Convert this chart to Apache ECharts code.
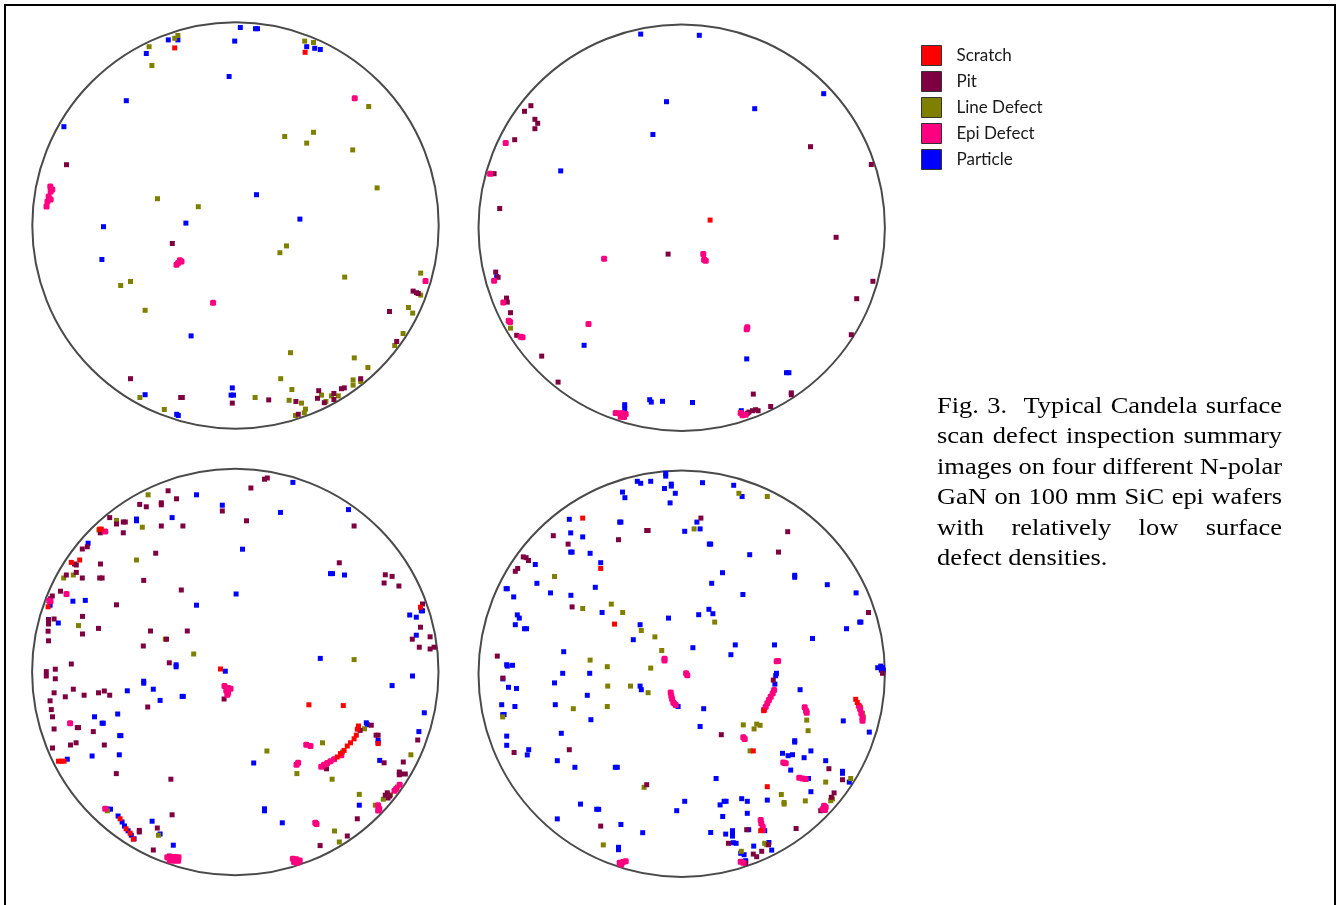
<!DOCTYPE html>
<html>
<head>
<meta charset="utf-8">
<script src="https://cdn.jsdelivr.net/npm/echarts@6/dist/echarts.min.js"></script>
<style>
  html, body { margin: 0; padding: 0; background: #fff; }
  #chart { width: 1338px; height: 905px; }
</style>
</head>
<body>
<div id="chart"></div>
<script>
// ---- Defect categories and colours ----
const CATEGORIES = ["Scratch", "Pit", "Line Defect", "Epi Defect", "Particle"];
const CATEGORY_COLORS = ["#FF0000", "#7F0040", "#808000", "#FF0080", "#0000FF"];

// Wafer radius in mm-like wafer units
const WAFER_RADIUS = 50.8;

// ---- Wafer 1 (top left) defect positions [x, y] ----
const w1_scratch = [[-15.2,44.4],[17.4,43.3]];
const w1_pit = [[-42.25,15.2],[-15.8,-4.5],[44.4,-16.4],[45.25,-16.8],[45.7,-17],[38.5,-21.5],[40.3,-29],[31.3,-38.3],[27.2,-40.6],[26.5,-40.8],[20.8,-41.3],[20.5,-43.2],[24.6,-42],[24.6,-43.5],[22.2,-44.3],[15.1,-44],[8.3,-43.6],[15.7,-47.2],[-0.8,-44.4],[-13.7,-43],[-13.3,-43],[-26.25,-38.3]];
const w1_line = [[-14.4,47.5],[-15.2,46.8],[-21.6,44.7],[-20.9,40],[17.3,46.1],[19.5,45.75],[33.3,29.75],[12.3,22.25],[19.5,23.3],[17.8,20.6],[29.3,18.9],[35.4,9.4],[-19.5,6.7],[-9.3,4.7],[12.75,-5.1],[11.1,-6.8],[-28.7,-15],[-26.25,-14],[-22.6,-21.2],[27.3,-12.9],[46.3,-11.9],[46.3,-17.4],[43.25,-20.5],[44.3,-21.9],[41.9,-27],[39.8,-30],[13.75,-31.8],[29.7,-33.1],[33.1,-35.5],[11.3,-38.3],[29.4,-38.6],[29.4,-39.9],[31.3,-39],[14.1,-41],[21.5,-42.4],[24,-42.6],[25.7,-42.6],[22.6,-44],[16.5,-44.4],[13.4,-43.7],[4.9,-43],[17.5,-45.9],[17.2,-46.8],[15,-47.5],[-23.9,-43],[-17.8,-46]];
const w1_epi = [[29.8,31.8],[-46.3,9.75],[-45.8,9],[-46.2,8.5],[-46.7,7.25],[-46.2,6.5],[-47,6],[-47.25,4.75],[-13.9,-8.7],[-14.3,-9.3],[-14.75,-9.8],[-13.5,-9],[-5.6,-19.3],[47.5,-13.9]];
const w1_particle = [[1.2,49.5],[5,49.2],[5.5,49.2],[-16.8,46.4],[-14.4,46.4],[-0.2,46.1],[-1.6,37.25],[17.8,44.7],[19.8,44.3],[21.2,44],[-22.3,43],[-27.3,31.2],[-42.9,24.7],[5.25,7.7],[-12.4,0.6],[16.1,1.6],[-33,-0.3],[-33.4,-8.5],[-11.1,-27.6],[-0.8,-40.6],[-1.1,-42.4],[-0.5,-42.4],[-22.6,-42.3],[-14.7,-47.2],[-14.3,-47.5]];

// ---- Wafer 2 (top right) ----
const w2_scratch = [[7.1,1.9]];
const w2_pit = [[-37.7,30.5],[-39.3,29.1],[-36.7,27.1],[-36,26.1],[-36.7,24.75],[-41.75,22],[-46.9,13.5],[-47.6,13.5],[-45.5,4.8],[32.2,20.25],[47.4,15.8],[38.6,-2.4],[-3.4,-6.6],[47.8,-13.4],[43.75,-17.75],[-46.5,-11.1],[-45.9,-12.4],[-43.8,-17.6],[-43.6,-18.6],[-42.8,-21.25],[-41.25,-26.9],[-35,-32.1],[-30.9,-38.6],[42.4,-26.75],[17.9,-41.6],[27.4,-41.3],[27.4,-41.75],[22.25,-44.7],[16.8,-46.1],[17.7,-45.75],[18.5,-45.5],[19.1,-45.75],[16.4,-46.4]];
const w2_line = [[-42.8,-25.1]];
const w2_epi = [[-44,21.2],[-47.9,13.5],[-19.4,-7.75],[5.4,-6.6],[5.6,-8],[6,-8.25],[-46.9,-13.25],[-44.6,-18.7],[-43.25,-23.25],[-42.9,-23.6],[-40.25,-27.25],[-39.8,-27.4],[-23.3,-24.1],[16.4,-24.9],[16.25,-25.4],[-16.5,-46.3],[-15.7,-46.4],[-14.8,-46.4],[-14,-46.6],[-15.25,-47.25],[-14.4,-47.3],[14.75,-46.3],[15.2,-46.9],[16,-46.75]];
const w2_particle = [[-10.25,48.4],[4.4,48.1],[35.5,33.5],[-3.8,31.5],[18.25,29.75],[-7.2,23.3],[-30.25,14.2],[-46.25,-12.25],[-24.4,-29.4],[16.25,-32.8],[26.2,-36.25],[26.8,-36.25],[-8,-43],[-7.6,-43.6],[-4.8,-43.4],[2.7,-43.7],[-14.25,-44.25],[-14.25,-45.25],[14.9,-45.75]];

// ---- Wafer 3 (bottom left) ----
const w3_scratch = [[-33.9,35.7],[-33.5,35.7],[-41,27.4],[-38.9,28],[-46.8,16.3],[-3.7,0.75],[46.3,16.2],[-44.2,-22.3],[-43.5,-22.3],[-42.8,-22.3],[18.4,-8.2],[27,-8.4],[30.8,-13.5],[30.5,-14.3],[30.25,-15.8],[29.7,-16.7],[28.8,-17.7],[28,-18.5],[27.2,-19.6],[26.3,-20.4],[25.5,-21.25],[35.7,-17.9],[-28.8,-36.7],[-27.3,-39.2],[-26.3,-40.3],[-25.5,-41.8]];
const w3_pit = [[7.3,48.2],[8,48.5],[3.9,46],[-16.8,45.3],[-14.7,43.3],[-23.9,41.9],[-22.25,41.3],[-18.5,42.3],[-18.5,41.8],[-3.25,40.25],[2.8,37.8],[29.7,36.5],[-31.4,38.6],[-29.7,37],[-28,37.5],[-27.5,37.5],[-18.5,36.5],[-13.1,36.5],[-28,34.8],[-33.75,34.8],[-37,31.3],[-38.25,30.75],[-19.9,29.7],[-40.2,27],[-39.75,26.75],[-33.7,27],[-39.75,24.9],[-42.25,24.25],[-38.25,23.5],[-33.9,23.5],[-33.3,23.5],[-22.9,22.9],[26,27.3],[37.5,24.3],[39.2,23.9],[37.2,22.25],[40.9,21.5],[-13.5,20.5],[-43.7,20.2],[-45.75,19],[-46.2,18.3],[-29.7,16.8],[-46.7,13],[-46.7,12],[-45.3,13.25],[-38.2,13.9],[-46.8,10.2],[-46.7,7.8],[-38.2,9.5],[-34.2,10.9],[-21.2,10.25],[-12,10.25],[-23,6.5],[-17.2,8.2],[-16.5,2.3],[-41,2],[-45,0.7],[-47.25,0.1],[46.8,17],[46.3,11.2],[44.25,8.2],[48.7,8.8],[46,6.2],[48.7,5.75],[49.7,6.2],[-47.25,-1],[-45,-1.7],[45.6,-17],[-40.5,-4.3],[-42.5,-6.2],[-37.8,-5.8],[-34.2,-5.2],[-32.75,-4.75],[-31.4,-5.8],[-45.3,-5.2],[-46.3,-7.2],[-46,-9.4],[-45.7,-11.2],[-39.5,-13.9],[-39.2,-13.9],[-45.3,-14.25],[-35.5,-14.9],[-21.9,-8.75],[-41.2,-18.25],[-39.8,-17.7],[-32.75,-18.25],[-45.7,-19],[-29.75,-25.4],[-16.1,-26.8],[-2.8,-6.75],[22.8,-24.2],[31.2,-14.6],[34,-13.3],[35.2,-15.8],[35.7,-15.8],[37.2,-22.7],[42,-22.5],[41,-25],[41.3,-25.5],[42.5,-25.5],[41,-25.7],[38,-30.2],[37.5,-30.8],[38.6,-31],[38.2,-31.5],[30.5,-36.7],[28,-41],[21.2,-43.4],[-24,-39.6],[-24,-40],[-19.5,-39],[-15.8,-35.7],[-20.5,-44.5],[-16.5,-46]];
const w3_line = [[-21.8,44.3],[-29.7,37.9],[-23.25,36.2],[-34.1,35.5],[-24.7,28],[-40.5,24.25],[-42.9,23.5],[-39.2,11.6],[-17.5,8.2],[-10.4,4.5],[29.7,3.1],[43.9,-20.7],[32.3,-14.2],[26.8,-20],[21.8,-17.7],[7.9,-19.75],[15.4,-25.4],[24.2,-26.8],[40.5,-28.75],[38.8,-30.7],[37,-31.8],[31,-30.6],[35,-33.3],[24.8,-39.75],[26,-42.5],[-32,-34.7],[-19.2,-40.8]];
const w3_epi = [[-32.5,35.1],[-42.2,19.5],[-46.5,17.8],[-46.2,17.7],[-41.3,-12.8],[-2.7,-3.5],[-1.8,-4],[-1.2,-4.2],[-2.25,-4.6],[-1.8,-5.2],[-2,-5.7],[24.7,-21.8],[23.8,-22.3],[23,-22.75],[22.2,-23.2],[21.5,-23.7],[26.5,-20.8],[17.75,-18.2],[18.8,-18.5],[15.7,-22.7],[15.3,-23.2],[41.1,-28.2],[40.25,-29.2],[39.8,-29.7],[35.7,-33.3],[36,-34.2],[35.7,-34.6],[20,-37.7],[20.3,-38],[14.4,-46.7],[15.25,-46.8],[16.1,-47.1],[14.7,-47.5],[15.5,-47.7],[-32.5,-34.2],[-17,-46.3],[-16,-46.25],[-15,-46.25],[-14.2,-46.3],[-16.4,-47.1],[-15.3,-47.2],[-14.3,-47.2]];
const w3_particle = [[14.4,47.4],[-9.7,44.3],[-3.25,41.7],[11.3,39.9],[28.3,40.6],[-24.7,38.25],[-24.7,37.8],[-15.8,38.6],[-36.8,32.2],[1.8,30.7],[23.8,24.6],[24.3,24.6],[27.3,24.25],[0.2,19.5],[-46.3,16.7],[-40.6,17.7],[-37.5,17.9],[-9.7,16.7],[-46.7,13.1],[-44.25,12.25],[-14.8,1.8],[-14.8,1.3],[-2.5,0.2],[21.25,3.4],[46.5,15.3],[46.8,15.3],[43.6,14.25],[45.25,13.7],[45.25,9.2],[44.3,-1],[39.2,-3.4],[47.25,-10.2],[45.9,-14.9],[-22.9,-2.3],[-22.9,-2.8],[-20.5,-4.3],[-27,-4.7],[-18.8,-7.1],[-13.3,-6.1],[-13,-6.1],[-35.2,-11.2],[-33.3,-12.8],[-33,-12.8],[-29.4,-10.5],[-28.9,-15.9],[-28.6,-15.9],[-42,-21.8],[-35.8,-21],[-29,-20.7],[32.75,-12.7],[33,-13.2],[35.7,-17.1],[35.7,-17.7],[36.1,-22.1],[4.6,-22.75],[31,-33.3],[7.3,-34.2],[7.3,-34.7],[11.75,-37.7],[-31.8,-34.3],[-31.2,-34.3],[-29.3,-36],[-28.3,-37.5],[-27.7,-38.5],[-26.8,-39.7],[-26,-40.8],[-25.3,-41.7],[-20.8,-37.3],[-18.8,-40.5],[-15.5,-43.3]];

// ---- Wafer 4 (bottom right) ----
const w4_scratch = [[-24.75,38.9],[-20.25,26.3],[-16.8,12.4],[20.5,-9.25],[43.5,-6.4],[43.9,-7.2],[17.9,-19.3],[21.4,-28.25],[19.75,-39.25]];
const w4_pit = [[4.8,38.9],[-8.75,35.8],[-8.4,35.8],[26.5,35.5],[-32.1,34.5],[-15.8,33.5],[-28.4,32.4],[24.2,30.4],[-39.6,29.2],[-38.9,29],[-38.3,28.3],[-41,26.3],[-41.6,25.6],[-27.4,16.7],[46.7,15.3],[-46.1,4.4],[50.2,0.1],[-44.7,-1.1],[-41.9,-19.7],[-28.1,-19],[22.9,-1.6],[9.9,-15.25],[25.75,-22.4],[36.8,-23.75],[40.2,-26.5],[-8.75,-27.75],[38.1,-29.8],[37.4,-30.9],[34.75,-34.25],[-20.25,-38.1],[16.25,-39],[28.6,-38.7],[11.7,-42.4],[21.7,-42.75],[20,-44.4],[18.75,-45.75],[17.9,-45.1],[16,-47.4]];
const w4_line = [[14.3,45.1],[21.4,44.3],[3.1,36.2],[-31.8,24.3],[-17.6,17.4],[-14.75,15.3],[-24.75,16.3],[8.25,12.9],[-10.1,10.8],[-6.7,9.2],[-5,5.8],[-22.9,3.4],[-18.6,1.75],[-7.75,1.4],[-18.5,-3.1],[-12.8,-3.1],[-8.4,-4.75],[-27.1,-8.75],[-18.6,-8.2],[-44.75,-10.8],[31.25,-11.6],[31.6,-14.25],[44.75,-8.4],[45.2,-9.9],[45.4,-10.75],[15.4,-12.8],[18.75,-12.6],[19.6,-12.9],[18.1,-13.8],[17.1,-19.3],[42.25,-26.2],[36,-27.1],[-9.4,-28.4],[24.9,-30.2],[25.6,-32.2],[25.6,-32.6],[30.9,-31.8],[37.7,-31.3],[37.25,-31.75],[-19.6,-42.8],[20.75,-42.4],[21.25,-42.75],[14.9,-44.4]];
const w4_epi = [[-4.3,3.75],[-4.3,3.3],[24.1,3.2],[23.75,3.1],[1.1,0.1],[1.4,-0.4],[-2.75,-4.7],[-2.6,-5.5],[-2.4,-6.3],[-2.1,-7.2],[-1.5,-7.8],[23.1,-4.1],[22.75,-4.9],[22.25,-5.75],[21.8,-6.6],[21.4,-7.4],[21,-8.25],[20.6,-9],[30.75,-8.4],[31.1,-9.25],[31.25,-9.75],[44.3,-8],[44.6,-8.8],[44.9,-9.9],[45.2,-11.1],[45.2,-11.75],[15.4,-15.9],[15.75,-16.3],[25.4,-22.2],[26,-22.4],[29.4,-26],[30.2,-26.2],[31,-26.3],[35.6,-33],[36,-33.4],[35.25,-33.8],[35.8,-34.1],[19.75,-36.6],[19.9,-37.4],[20.25,-38.25],[20.25,-39.1],[-15.5,-47.25],[-14.7,-47.1],[-14,-46.9],[-15.1,-47.7],[14.75,-47],[15.4,-47.25]];
const w4_particle = [[-4,50.1],[-4,49.4],[-11.1,48.1],[-10.25,47.6],[-7.75,48.1],[-2.6,47.4],[-2.6,46.9],[-4.3,46.3],[-1.6,45.1],[5.2,47.75],[13,47.1],[15.1,44.3],[-14.8,45.4],[-14.2,44],[-2.9,42.7],[-28.1,38.6],[-15.5,37.9],[-15.2,37.9],[3.8,37.9],[4.6,36.2],[0.75,35.6],[-27.75,35.2],[-24.75,34.2],[6.9,32.4],[7.25,32.4],[-27.75,30.4],[-27.4,30.4],[-22.9,30.1],[17,29.75],[-36.6,27.3],[-20.25,27.75],[10.2,25.25],[28.25,24.6],[28.25,24.1],[-36.2,22.6],[-43.9,21.25],[-43.6,21.25],[-42,19.2],[-32.8,20.2],[-27.7,19.6],[-21.6,21.6],[7.5,22.6],[36.4,22.25],[15.3,19.8],[43.6,20.2],[-19.9,15.3],[6.8,16.1],[7.8,15],[4.25,14.75],[-3.3,13.9],[-41.1,14.7],[-40.6,13.9],[-41.6,12.25],[-39.3,11.25],[-38.8,11.25],[-10.4,12.25],[-12.1,8.5],[44.5,12.9],[44.8,12.9],[41.2,11.25],[32.7,8.8],[2.8,6.5],[13.4,7.2],[12.3,4.75],[23.2,7.2],[-29.5,5.5],[-43.75,2.25],[-43.6,1.9],[-42.3,2.1],[-29.75,0.1],[-23,0.1],[23.7,0.1],[49,1.5],[49.75,1.9],[50.2,1.5],[49.9,0.9],[50.4,0.9],[-44.7,-1.3],[-43.3,-3.4],[-41.3,-3.7],[-31.8,-2.3],[-10.4,-3.1],[-10.1,-4],[-23.6,-5.4],[-45,-7.75],[-41.7,-8.2],[-31.6,-7.75],[-44.75,-10.25],[-44.4,-10.2],[-22.7,-11.5],[-30.1,-14.9],[-43.75,-15.6],[-43.75,-17.9],[-38.25,-19],[-38.6,-20.3],[-31.1,-21.75],[-26.7,-23.4],[-16.6,-23.4],[-16.1,-23.4],[-1.9,-7.4],[-0.9,-8.2],[5.5,-8.75],[4.6,-13.2],[23.5,-0.5],[23.3,-2.6],[29.6,-4],[40.4,-11.8],[46.9,-14.6],[28.25,-16.75],[28.25,-17.1],[25.2,-19.9],[26.6,-20.5],[27.7,-20.25],[30.6,-21],[32.3,-19.3],[27.25,-24.1],[31.7,-26.2],[36,-21.75],[40.2,-24.4],[40.2,-24.9],[41.9,-27.1],[32.3,-29.5],[8.6,-26.2],[21.4,-31.6],[0.75,-31.9],[-1.25,-34.25],[-25.3,-32.6],[-21.25,-33.9],[-20.75,-33.9],[-31.1,-36.3],[-15.2,-37.7],[-9.75,-39.75],[-15.8,-43.4],[-15.8,-44],[9.6,-32.8],[10.6,-31.9],[11.1,-31.9],[15,-31.25],[16.4,-31.9],[10.25,-35.7],[16.4,-34.9],[16.75,-39],[20.75,-39.25],[7.25,-39.7],[11,-40.1],[12.7,-39.25],[12.7,-39.9],[12.7,-40.6],[12.9,-42.25],[13.6,-42.4],[18,-43.1],[21.8,-42.2],[22.5,-44.1],[15.6,-45.25],[14.75,-44.9],[16,-46.75]];

// ---- Caption text ----
const CAPTION_LINES = [
  "Fig. 3.  Typical Candela surface",
  "scan defect inspection summary",
  "images on four different N-polar",
  "GaN on 100 mm SiC epi wafers",
  "with relatively low surface",
  "defect densities."
];

// ---------------------------------------------------------------
const WAFERS = [
  [w1_scratch, w1_pit, w1_line, w1_epi, w1_particle],
  [w2_scratch, w2_pit, w2_line, w2_epi, w2_particle],
  [w3_scratch, w3_pit, w3_line, w3_epi, w3_particle],
  [w4_scratch, w4_pit, w4_line, w4_epi, w4_particle]
];
// layout: grid boxes (px) for each wafer panel
const GRID_BOXES = [
  {left: 31.5, top: 21.5},
  {left: 477.7, top: 23.7},
  {left: 31.3, top: 468},
  {left: 477.7, top: 469.7}
];
const GRID_SIZE = 408;
const AXIS_HALF = 51;

const chart = echarts.init(document.getElementById('chart'), null, {renderer: 'canvas'});

const grids = [], xAxes = [], yAxes = [], series = [];
GRID_BOXES.forEach((b, i) => {
  grids.push({left: b.left, top: b.top, width: GRID_SIZE, height: GRID_SIZE, containLabel: false, show: false});
  xAxes.push({type: 'value', gridIndex: i, min: -AXIS_HALF, max: AXIS_HALF, show: false});
  yAxes.push({type: 'value', gridIndex: i, min: -AXIS_HALF, max: AXIS_HALF, show: false});
  series.push({
    type: 'custom', xAxisIndex: i, yAxisIndex: i, silent: true,
    data: [[0, 0]],
    renderItem: function (params, api) {
      const c = api.coord([0, 0]);
      const r = api.size([WAFER_RADIUS, 0])[0];
      return {type: 'circle', shape: {cx: c[0], cy: c[1], r: r},
        style: {fill: 'none', stroke: '#4a4a4a', lineWidth: 2}};
    }
  });
});
// draw order: particle, line, pit, epi, scratch
const ORDER = [4, 2, 1, 3, 0];
WAFERS.forEach((w, i) => {
  ORDER.forEach(c => {
    series.push({
      type: 'scatter', name: CATEGORIES[c], xAxisIndex: i, yAxisIndex: i,
      data: w[c], symbol: c === 3 ? 'roundRect' : 'rect',
      symbolSize: c === 3 ? 6 : 5,
      itemStyle: {color: CATEGORY_COLORS[c], opacity: 1},
      emphasis: {disabled: true}, silent: true
    });
  });
});

// justified caption via measured words (the source figure's text is horizontally stretched)
const CAP_SIZE = 23;
const CAP_STRETCH = 1.15;
const CAP_FONT = CAP_SIZE + 'px "Liberation Serif", "Times New Roman", serif';
const CAP_LEFT = 937, CAP_WIDTH = 345, CAP_TOP = 395, CAP_PITCH = 30.5;
const mctx = document.createElement('canvas').getContext('2d');
mctx.font = CAP_FONT;
const graphics = [{
  type: 'rect', silent: true, z: 100,
  shape: {x: 5, y: 5, width: 1330, height: 930},
  style: {fill: 'none', stroke: '#000', lineWidth: 2}
}];
function capWord(text, x, y) {
  graphics.push({type: 'text', silent: true, x: x, y: y, scaleX: CAP_STRETCH,
    style: {text: text, font: CAP_FONT, fill: '#000'}});
}
CAPTION_LINES.forEach((line, k) => {
  const y = CAP_TOP + k * CAP_PITCH;
  const last = k === CAPTION_LINES.length - 1;
  if (last) { capWord(line, CAP_LEFT, y); return; }
  const words = line.split(' ');
  const widths = words.map(w => mctx.measureText(w).width * CAP_STRETCH);
  const total = widths.reduce((a, b) => a + b, 0);
  const gap = (CAP_WIDTH - total) / (words.length - 1);
  let x = CAP_LEFT;
  words.forEach((w, j) => {
    if (w.length) capWord(w, x, y);
    x += widths[j] + gap;
  });
});

chart.setOption({
  animation: false,
  backgroundColor: '#ffffff',
  grid: grids,
  xAxis: xAxes,
  yAxis: yAxes,
  legend: {
    data: CATEGORIES.map((n, i) => ({name: n, itemStyle: {color: CATEGORY_COLORS[i]}})),
    orient: 'vertical', left: 921, top: 45, padding: 0,
    itemWidth: 20, itemHeight: 20, itemGap: 5,
    icon: 'rect',
    itemStyle: {borderColor: '#333', borderWidth: 1},
    textStyle: {fontFamily: 'Lato', fontSize: 17, color: '#1a1a1a', padding: [0, 0, 0, 10]},
    selectedMode: false
  },
  graphic: graphics,
  series: series
});
</script>
</body>
</html>
